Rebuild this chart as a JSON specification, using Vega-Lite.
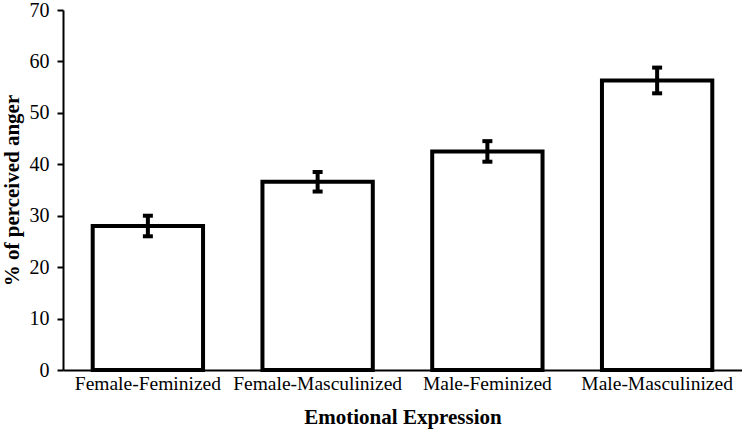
{
  "$schema": "https://vega.github.io/schema/vega-lite/v6.json",
  "width": 679,
  "height": 360,
  "autosize": {"type": "none"},
  "padding": {"left": 63, "top": 10, "right": 0, "bottom": 67},
  "background": "white",
  "config": {
    "view": {"stroke": null},
    "font": "Liberation Serif",
    "axis": {
      "labelFont": "Liberation Serif",
      "titleFont": "Liberation Serif",
      "labelColor": "black",
      "titleColor": "black",
      "domainColor": "black",
      "tickColor": "black",
      "grid": false
    }
  },
  "data": {
    "values": [
      {"expr": "Female-Feminized", "pct": 28.0, "lo": 26.0, "hi": 30.0},
      {"expr": "Female-Masculinized", "pct": 36.6, "lo": 34.7, "hi": 38.5},
      {"expr": "Male-Feminized", "pct": 42.5, "lo": 40.5, "hi": 44.5},
      {"expr": "Male-Masculinized", "pct": 56.3, "lo": 53.8, "hi": 58.8}
    ]
  },
  "encoding": {
    "x": {
      "field": "expr",
      "type": "nominal",
      "sort": null,
      "title": "Emotional Expression",
      "scale": {"paddingInner": 0.35, "paddingOuter": 0.175},
      "axis": {
        "labelAngle": 0,
        "labelFontSize": 19.5,
        "titleFontSize": 21,
        "titleFontWeight": "bold",
        "ticks": false,
        "domainWidth": 2,
        "labelPadding": 4,
        "titlePadding": 14
      }
    }
  },
  "layer": [
    {
      "mark": {"type": "bar", "fill": "white", "stroke": "black", "strokeWidth": 4},
      "encoding": {
        "y": {
          "field": "pct",
          "type": "quantitative",
          "title": "% of perceived anger",
          "scale": {"domain": [0, 70], "nice": false},
          "axis": {
            "values": [0, 10, 20, 30, 40, 50, 60, 70],
            "labelFontSize": 20,
            "titleFontSize": 21,
            "titleFontWeight": "bold",
            "tickSize": 6,
            "tickWidth": 2,
            "domainWidth": 2,
            "labelPadding": 8,
            "titlePadding": 7
          }
        }
      }
    },
    {
      "mark": {"type": "errorbar", "color": "black", "opacity": 1, "thickness": 4, "ticks": {"size": 10, "thickness": 4, "color": "black", "opacity": 1}, "rule": {"opacity": 1, "color": "black"}},
      "encoding": {
        "y": {"field": "lo", "type": "quantitative", "title": "% of perceived anger"},
        "y2": {"field": "hi"}
      }
    }
  ]
}
